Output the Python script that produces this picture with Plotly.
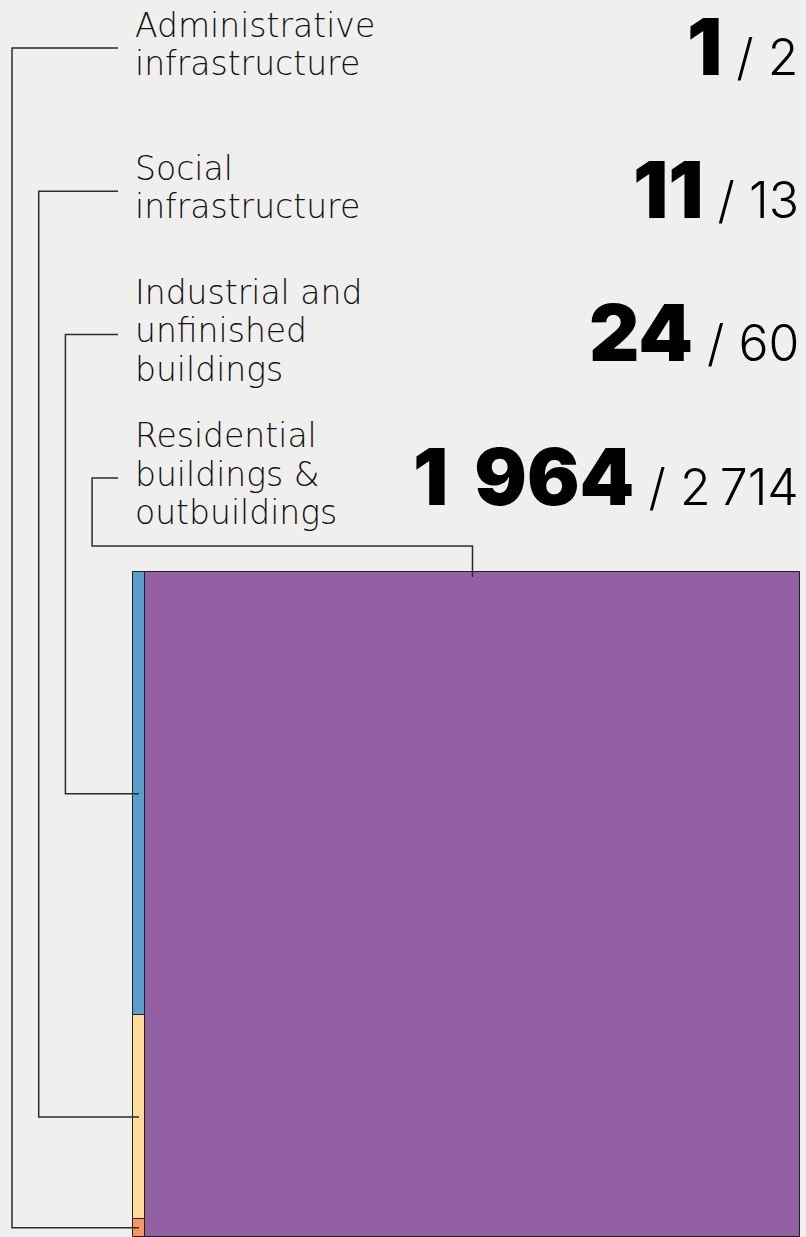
import plotly.graph_objects as go

# ---------------- data ----------------
categories = [
    "Administrative infrastructure",
    "Social infrastructure",
    "Industrial and unfinished buildings",
    "Residential buildings & outbuildings",
]
label_lines = [
    ["Administrative", "infrastructure"],
    ["Social", "infrastructure"],
    ["Industrial and", "unfinished", "buildings"],
    ["Residential", "buildings &", "outbuildings"],
]
counted = [1, 11, 24, 1964]
totals = [2, 13, 60, 2714]
colors = ["#f5985a", "#fddc94", "#5aa0cc", "#9360a3"]

# ---------------- layout constants (pixels) ----------------
W, H = 806, 1237
TREE_L, TREE_R, TREE_T, TREE_B = 133, 800, 572, 1237
BG = "#efefee"
LINE_COLOR = "#2b2b2b"
ROW0, ROW_STEP = 48, 143.3
LINE_X0, LINE_XSTEP, LINE_END = 12, 26.7, 118
ROUTE_Y = 546
LABEL_X, NUM_X = 134, 801
LABEL_FS, LABEL_LH, LABEL_DESC = 33, 38.5, 0.236
BIG_FS, SMALL_FS = 78, 50
LABEL_FONT = "'DejaVu Sans', 'Noto Sans', sans-serif"
NUM_FONT = "Inter, 'Open Sans', 'DejaVu Sans', sans-serif"
BIG_SEP = "\u2004"
SMALL_SEP = "\u2009"

total = sum(counted)
sx = total / (TREE_R - TREE_L)
sy = 1.0 / (TREE_B - TREE_T)


def dx(px):
    return (px - TREE_L) * sx


def dy(py):
    return (TREE_B - py) * sy


def py_paper(py):
    return 1 - py / H


def fmt(v, sep):
    return f"{v:,}".replace(",", sep)


fig = go.Figure()

# treemap: largest category fills the right part, the rest stack in a column
main_idx = max(range(len(counted)), key=lambda i: counted[i])
small_idx = [i for i in range(len(counted)) if i != main_idx]
col_w = sum(counted[i] for i in small_idx)

targets = {}
fig.add_trace(go.Bar(
    x=[col_w + counted[main_idx] / 2], y=[1.0], base=[0], width=[counted[main_idx]],
    marker=dict(color=colors[main_idx], line=dict(color="#222222", width=1)),
    name=categories[main_idx], hoverinfo="name",
))
targets[main_idx] = (col_w + counted[main_idx] / 2, 1.0)

base = 0.0
for i in small_idx:
    h = counted[i] / col_w
    fig.add_trace(go.Bar(
        x=[col_w / 2], y=[h], base=[base], width=[col_w],
        marker=dict(color=colors[i], line=dict(color="#222222", width=1)),
        name=categories[i], hoverinfo="name",
    ))
    targets[i] = (col_w / 2, base + h / 2)
    base += h

# connectors
shapes = []
for i in range(len(categories)):
    yc = ROW0 + ROW_STEP * i
    lx = LINE_X0 + LINE_XSTEP * i
    tx, ty = targets[i]
    if i == main_idx:
        pts = [(dx(LINE_END), dy(yc)), (dx(lx), dy(yc)), (dx(lx), dy(ROUTE_Y)),
               (tx, dy(ROUTE_Y)), (tx, dy(TREE_T + 5))]
    else:
        pts = [(dx(LINE_END), dy(yc)), (dx(lx), dy(yc)), (dx(lx), ty), (tx, ty)]
    path = "M " + " L ".join(f"{a},{b}" for a, b in pts)
    shapes.append(dict(type="path", xref="x", yref="y", path=path,
                       line=dict(color=LINE_COLOR, width=1.5)))

# text
annotations = []
for i, lines in enumerate(label_lines):
    yc = ROW0 + ROW_STEP * i
    n = len(lines)
    first = yc + 8 - (n - 1) * LABEL_LH / 2
    for k, t in enumerate(lines):
        base_px = first + k * LABEL_LH
        annotations.append(dict(
            text=t, x=LABEL_X / W, y=py_paper(base_px + LABEL_DESC * LABEL_FS + 1),
            xref="paper", yref="paper", xanchor="left", yanchor="bottom",
            showarrow=False, borderpad=0,
            font=dict(family=LABEL_FONT, size=LABEL_FS, color="#111111", weight=200),
        ))
    txt = (f"<span style='font-weight:900;font-size:{BIG_FS}px'>{fmt(counted[i], BIG_SEP)}</span>"
           f"<span style='font-weight:300;font-size:{SMALL_FS}px'> / {fmt(totals[i], SMALL_SEP)}</span>")
    nb = yc + 28
    annotations.append(dict(
        text=txt, x=NUM_X / W, y=py_paper(nb + 0.24 * BIG_FS + 1),
        xref="paper", yref="paper", xanchor="right", yanchor="bottom",
        showarrow=False,
        font=dict(family=NUM_FONT, size=SMALL_FS, color="#000000"),
    ))

fig.update_layout(
    width=W, height=H,
    margin=dict(l=0, r=0, t=0, b=0),
    paper_bgcolor=BG, plot_bgcolor=BG,
    barmode="overlay", bargap=0,
    showlegend=False,
    xaxis=dict(range=[dx(0), dx(W)], visible=False, fixedrange=True, domain=[0, 1]),
    yaxis=dict(range=[dy(H), dy(0)], visible=False, fixedrange=True, domain=[0, 1]),
    shapes=shapes,
    annotations=annotations,
)

fig.write_html("out.html", config={"displayModeBar": False},
               post_script="document.body.style.margin='0';")
